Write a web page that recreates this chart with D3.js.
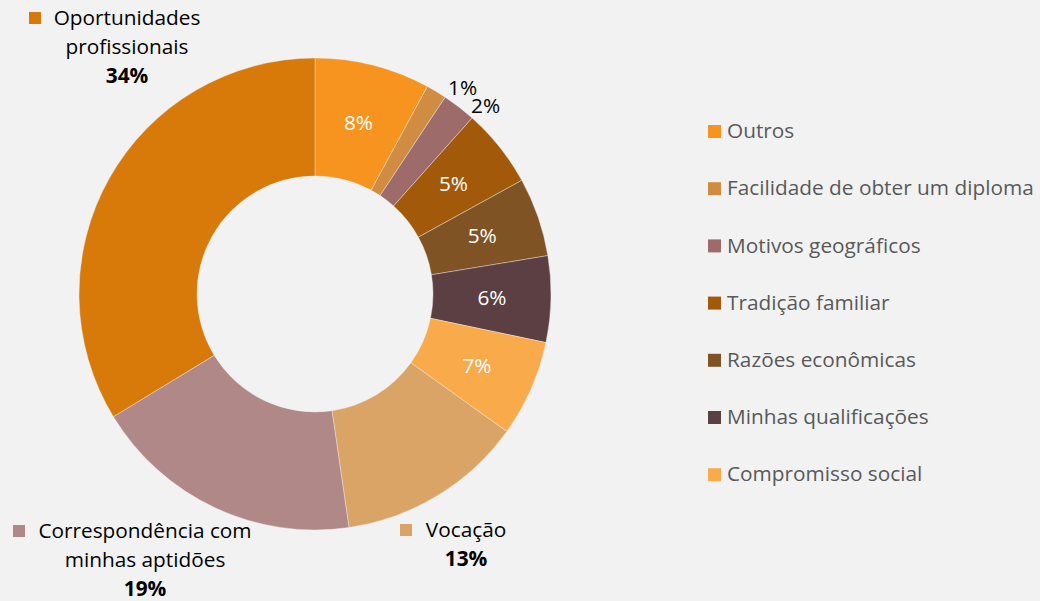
<!DOCTYPE html>
<html>
<head>
<meta charset="utf-8">
<script src="https://cdn.jsdelivr.net/npm/d3@7"></script>
<style>
  body { margin: 0; background: #f2f2f2; }
  svg { display: block; font-family: "Open Sans", sans-serif; }
</style>
</head>
<body>
<div id="chart"></div>
<script>
// Data, clockwise from the top
const categories = ['Outros', 'Facilidade de obter um diploma', 'Motivos geográficos', 'Tradição familiar',
    'Razões econômicas', 'Minhas qualificações', 'Compromisso social', 'Vocação',
    'Correspondência com minhas aptidões', 'Oportunidades profissionais'];
const values = [7.9, 1.4, 2.3, 5.4, 5.4, 5.9, 6.6, 12.8, 18.6, 33.7];
const colors = ['#f7941f', '#d08c40', '#9e6b6b', '#a2590a', '#7f5323', '#5c3f42', '#f9aa4b', '#d9a465', '#b08888', '#d87a09'];
const legendItems = categories.slice(0, 7);

const width = 1040, height = 601;
const cx = 315, cy = 294;
const outerR = 236, innerR = 118;
const fontSize = '20.8px';

const svg = d3.select('#chart')
    .append('svg')
    .attr('width', width)
    .attr('height', height);

svg.append('rect').attr('width', width).attr('height', height).attr('fill', '#f2f2f2');

const g = svg.append('g').attr('transform', `translate(${cx}, ${cy})`);

const data = categories.map((c, i) => ({ name: c, value: values[i], color: colors[i] }));
const total = d3.sum(values);
const pct = v => `${Math.round(v / total * 100)}%`;

const pie = d3.pie().value(d => d.value).sort(null);
const arc = d3.arc().innerRadius(innerR).outerRadius(outerR);
const arcs = pie(data);

g.selectAll('path')
    .data(arcs)
    .enter()
    .append('path')
    .attr('d', arc)
    .attr('fill', d => d.data.color)
    .attr('stroke', '#f2f2f2')
    .attr('stroke-width', 0.4);

// labels inside slices
g.selectAll('.inlabel')
    .data(arcs.filter((d, i) => [0, 3, 4, 5, 6].includes(i)))
    .enter()
    .append('text')
    .attr('class', 'inlabel')
    .attr('transform', d => `translate(${arc.centroid(d)})`)
    .attr('text-anchor', 'middle')
    .attr('dy', '0.35em')
    .style('fill', '#ffffff')
    .style('font-size', fontSize)
    .text(d => pct(d.data.value));

// small slices get labels outside the ring
const outR = 254;
g.selectAll('.outlabel')
    .data(arcs.filter((d, i) => i === 1 || i === 2))
    .enter()
    .append('text')
    .attr('class', 'outlabel')
    .attr('x', d => outR * Math.sin((d.startAngle + d.endAngle) / 2 + 0.08))
    .attr('y', d => -outR * Math.cos((d.startAngle + d.endAngle) / 2 + 0.08))
    .attr('text-anchor', 'middle')
    .attr('dy', '0.35em')
    .style('fill', '#000000')
    .style('font-size', fontSize)
    .text(d => pct(d.data.value));

// Callout labels for the big slices
const callouts = [
    { idx: 9, lines: ['Oportunidades', 'profissionais'], x: 127, y: 18, box: 29 },
    { idx: 8, lines: ['Correspondência com', 'minhas aptidões'], x: 145, y: 531, box: 13 },
    { idx: 7, lines: ['Vocação'], x: 466, y: 530, box: 400 }
];
const lineH = 28.8;
callouts.forEach(c => {
    const d = data[c.idx];
    const t = svg.append('text')
        .attr('text-anchor', 'middle')
        .style('font-size', fontSize)
        .style('fill', '#000000');
    c.lines.forEach((l, j) => {
        t.append('tspan')
            .attr('x', c.x)
            .attr('y', c.y + j * lineH)
            .attr('dy', '0.35em')
            .text(l);
    });
    svg.append('text')
        .attr('x', c.x)
        .attr('y', c.y + c.lines.length * lineH)
        .attr('dy', '0.35em')
        .attr('text-anchor', 'middle')
        .style('font-size', fontSize)
        .style('font-weight', 'bold')
        .style('fill', '#000000')
        .text(pct(d.value));
    svg.append('rect')
        .attr('x', c.box)
        .attr('y', c.y - 6)
        .attr('width', 12)
        .attr('height', 12)
        .attr('fill', d.color);
});

// Legend
const legend = svg.append('g').attr('transform', 'translate(708, 131)');
const item = legend.selectAll('g')
    .data(legendItems)
    .enter()
    .append('g')
    .attr('transform', (d, i) => `translate(0, ${i * 57.2})`);
item.append('rect')
    .attr('x', 0)
    .attr('y', -6)
    .attr('width', 13)
    .attr('height', 13)
    .attr('fill', (d, i) => colors[i]);
item.append('text')
    .attr('x', 19)
    .attr('dy', '0.35em')
    .style('font-size', fontSize)
    .style('fill', '#595959')
    .text(d => d);
</script>
</body>
</html>
